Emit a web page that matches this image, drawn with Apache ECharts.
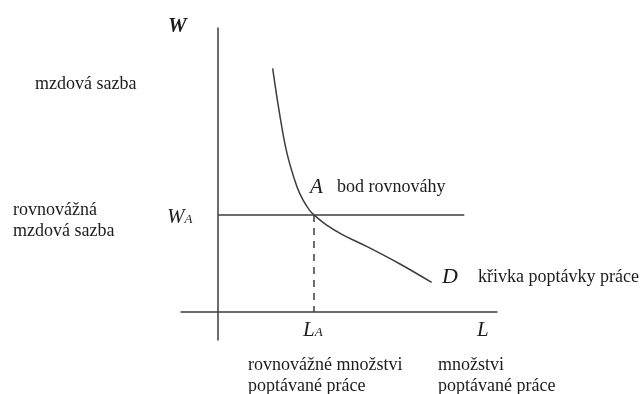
<!DOCTYPE html>
<html>
<head>
<meta charset="utf-8">
<script src="https://cdn.jsdelivr.net/npm/echarts@6/dist/echarts.min.js"></script>
<style>
  html, body { margin: 0; padding: 0; background: #ffffff; }
  #chart { width: 641px; height: 394px; }
</style>
</head>
<body>
<div id="chart"></div>
<script>
// Labour demand curve D (quantity of labour L, wage rate W)
const demandL = [1.466, 1.649, 1.850, 2.119, 2.281, 2.456, 2.577, 2.918, 3.365, 3.994, 4.890, 5.742];
const demandW = [8.58, 7.00, 5.59, 4.40, 3.94, 3.58, 3.41, 3.05, 2.70, 2.30, 1.68, 1.03];

// Equilibrium point A
const equilibriumL = 2.577;
const equilibriumW = 3.41;
// Horizontal wage line W_A runs from the W axis to this quantity
const wageLineEndL = 6.62;

// Axis ranges
const axisL = [-1, 7.5];
const axisW = [-1, 10];

const lineColor = '#3c3c3c';
const textColor = '#1c1c1c';
const serif = '"Liberation Serif", "Times New Roman", serif';

const chart = echarts.init(document.getElementById('chart'), null, { renderer: 'canvas' });

function txt(x, y, text, size, extra) {
  return {
    type: 'text',
    x: x, y: y,
    style: Object.assign({
      text: text,
      fill: textColor,
      font: size + 'px ' + serif,
      textVerticalAlign: 'middle',
      verticalAlign: 'middle'
    }, extra || {})
  };
}

function subText(x, y, main, sub) {
  return {
    type: 'text',
    x: x, y: y,
    style: {
      text: '{m|' + main + '}{s|' + sub + '}',
      verticalAlign: 'middle',
      rich: {
        m: { fontFamily: serif, fontStyle: 'italic', fontSize: 21, fill: textColor, color: textColor, verticalAlign: 'bottom' },
        s: { fontFamily: serif, fontStyle: 'italic', fontSize: 13, fill: textColor, color: textColor, verticalAlign: 'bottom', padding: [0, 0, 1, 0] }
      }
    }
  };
}

const option = {
  backgroundColor: '#ffffff',
  animation: false,
  grid: { left: 181, right: 144, top: 28, bottom: 54, containLabel: false },
  xAxis: {
    type: 'value',
    min: axisL[0], max: axisL[1],
    axisLine: { show: true, onZero: true, lineStyle: { color: lineColor, width: 1.5 } },
    axisTick: { show: false },
    axisLabel: { show: false },
    splitLine: { show: false }
  },
  yAxis: {
    type: 'value',
    min: axisW[0], max: axisW[1],
    axisLine: { show: true, onZero: true, lineStyle: { color: lineColor, width: 1.5 } },
    axisTick: { show: false },
    axisLabel: { show: false },
    splitLine: { show: false }
  },
  series: [
    {
      name: 'křivka poptávky práce',
      type: 'line',
      data: demandL.map((l, i) => [l, demandW[i]]),
      smooth: 0.4,
      showSymbol: false,
      lineStyle: { color: lineColor, width: 1.5 },
      z: 3
    },
    {
      name: 'rovnovážná mzdová sazba',
      type: 'line',
      data: [[0, equilibriumW], [wageLineEndL, equilibriumW]],
      showSymbol: false,
      lineStyle: { color: lineColor, width: 1.5 }
    },
    {
      name: 'rovnovážné množství',
      type: 'line',
      data: [[equilibriumL, equilibriumW], [equilibriumL, 0]],
      showSymbol: false,
      lineStyle: { color: lineColor, width: 1.5, type: [7, 6] }
    }
  ],
  graphic: [
    txt(168, 27, 'W', 21, { font: 'italic bold 21px ' + serif }),
    txt(35, 84, 'mzdová sazba', 18),
    txt(13, 210, 'rovnovážná', 18),
    txt(13, 231, 'mzdová sazba', 18),
    subText(167, 217, 'W', 'A'),
    txt(310, 187, 'A', 21, { font: 'italic 21px ' + serif }),
    txt(337, 187, 'bod rovnováhy', 18),
    txt(442, 277, 'D', 22, { font: 'italic 22px ' + serif }),
    txt(478, 277, 'křivka poptávky práce', 18),
    subText(303, 330, 'L', 'A'),
    txt(477, 330, 'L', 21, { font: 'italic 21px ' + serif }),
    txt(248, 365, 'rovnovážné množstvi', 18),
    txt(248, 386, 'poptávané práce', 18),
    txt(438, 365, 'množstvi', 18),
    txt(438, 386, 'poptávané práce', 18)
  ]
};

chart.setOption(option);
</script>
</body>
</html>
